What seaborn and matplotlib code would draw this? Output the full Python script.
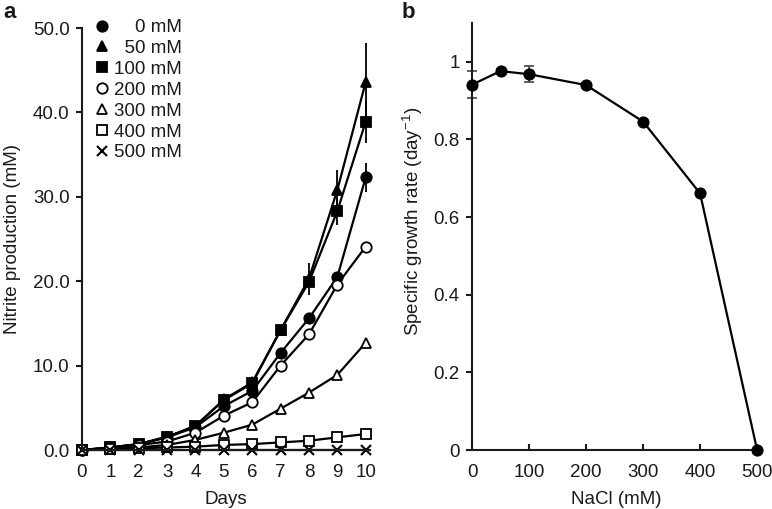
import numpy as np
import pandas as pd
import matplotlib
matplotlib.use("Agg")
import matplotlib.pyplot as plt
import seaborn as sns

# ---------------- data ----------------
days = [0, 1, 2, 3, 4, 5, 6, 7, 8, 9, 10]
labels = ["0 mM", "50 mM", "100 mM", "200 mM", "300 mM", "400 mM", "500 mM"]
legend_labels = ["    0 mM", "  50 mM", "100 mM", "200 mM", "300 mM", "400 mM", "500 mM"]
nitrite_0 = [0.0, 0.3, 0.7, 1.5, 2.7, 5.2, 7.0, 11.5, 15.6, 20.5, 32.3]
nitrite_50 = [0.0, 0.3, 0.7, 1.6, 2.8, 6.0, 8.0, 14.2, 20.3, 30.8, 43.6]
nitrite_100 = [0.0, 0.3, 0.7, 1.5, 2.9, 5.9, 7.9, 14.2, 19.9, 28.3, 38.9]
nitrite_200 = [0.0, 0.2, 0.6, 1.0, 2.05, 4.07, 5.65, 10.0, 13.7, 19.6, 24.1]
nitrite_300 = [0.0, 0.1, 0.3, 0.6, 1.2, 2.05, 3.0, 4.9, 6.8, 8.9, 12.7]
nitrite_400 = [0.0, 0.1, 0.2, 0.3, 0.4, 0.6, 0.7, 0.9, 1.1, 1.5, 1.9]
nitrite_500 = [0.0, 0.0, 0.0, 0.0, 0.0, 0.0, 0.0, 0.0, 0.0, 0.0, 0.0]
# error bars (day, value, sd) for panel a
err_days = [8, 9, 10, 9, 10, 10]
err_vals = [20.3, 30.8, 43.6, 28.3, 38.9, 32.3]
err_sd = [1.9, 2.4, 4.6, 1.6, 2.5, 1.7]

nacl = [0, 50, 100, 200, 300, 400, 500]
growth_rate = [0.941, 0.976, 0.968, 0.940, 0.846, 0.661, 0.0]
growth_sd = [0.035, 0.005, 0.021, 0.005, 0.005, 0.005, 0.0]

series = [nitrite_0, nitrite_50, nitrite_100, nitrite_200, nitrite_300, nitrite_400, nitrite_500]
markers = ["o", "^", "s", "o", "^", "s", "x"]
faces = ["black", "black", "black", "white", "white", "white", "black"]
msizes = [7.5, 7.5, 7.0, 7.5, 7.5, 7.0, 6.5]

sns.set_theme(style="ticks")
plt.rcParams["font.family"] = ["Liberation Sans", "DejaVu Sans"]
plt.rcParams["axes.linewidth"] = 1.5
for k in ["text.color", "axes.labelcolor", "xtick.color", "ytick.color", "axes.edgecolor"]:
    plt.rcParams[k] = "#1a1a1a"

FS = 13.5

fig = plt.figure(figsize=(7.72, 5.09), dpi=100)
ax1 = fig.add_axes([0.1062, 0.1159, 0.373, 0.829])
ax2 = fig.add_axes([0.6114, 0.1159, 0.373, 0.839])

# ---------------- panel a ----------------
for lab, leg, vals, m, fc, ms in zip(labels, legend_labels, series, markers, faces, msizes):
    df = pd.DataFrame({"Days": days, "val": vals})
    sns.lineplot(data=df, x="Days", y="val", ax=ax1, color="black", linewidth=1.6,
                 marker=m, markersize=ms, markerfacecolor=fc, markeredgecolor="black",
                 markeredgewidth=1.3 if m != "x" else 1.5, label=leg, clip_on=False)
ax1.errorbar(err_days, err_vals, yerr=err_sd, fmt="none", ecolor="black", elinewidth=1.3,
             capsize=0, zorder=1)
ax1.set_xlim(0, 10.15)
ax1.set_ylim(0, 50)
ax1.set_xticks(days)
ax1.set_yticks([0, 10, 20, 30, 40, 50])
ax1.set_yticklabels(["0.0", "10.0", "20.0", "30.0", "40.0", "50.0"])
ax1.tick_params(axis="x", length=0, pad=10, labelsize=FS)
ax1.tick_params(axis="y", length=4, width=1.5, direction="out", pad=5, labelsize=FS)
ax1.set_xlabel("Days", fontsize=FS, labelpad=7)
ax1.set_ylabel("Nitrite production (mM)", fontsize=FS)
ax1.yaxis.set_label_coords(-0.213, 0.5)
sns.despine(ax=ax1)
leg = ax1.legend(loc="upper left", bbox_to_anchor=(0.03, 1.048), frameon=False,
                 fontsize=FS, handlelength=0, handletextpad=0.65, labelspacing=0.2,
                 borderaxespad=0.2)
for h in leg.legend_handles:
    h.set_linestyle("none")

# ---------------- panel b ----------------
dfb = pd.DataFrame({"NaCl": nacl, "rate": growth_rate})
sns.lineplot(data=dfb, x="NaCl", y="rate", ax=ax2, color="black", linewidth=1.6,
             marker="o", markersize=8, markerfacecolor="black", markeredgecolor="black",
             clip_on=False, zorder=3)
ax2.errorbar(nacl, growth_rate, yerr=growth_sd, fmt="none", ecolor="#444444",
             elinewidth=1.2, capsize=3.5, capthick=1.2, zorder=2, clip_on=False)
ax2.set_xlim(0, 505)
ax2.set_ylim(0, 1.1)
ax2.set_xticks([0, 100, 200, 300, 400, 500])
ax2.set_yticks([0, 0.2, 0.4, 0.6, 0.8, 1.0])
ax2.set_yticklabels(["0", "0.2", "0.4", "0.6", "0.8", "1"])
ax2.tick_params(axis="x", length=4, width=1.5, direction="in", pad=10, labelsize=FS)
ax2.tick_params(axis="y", length=4, width=1.5, direction="out", pad=5, labelsize=FS)
ax2.set_xlabel("NaCl (mM)", fontsize=FS, labelpad=7)
ax2.set_ylabel("Specific growth rate (day$^{\\mathregular{-1}}$)", fontsize=FS)
ax2.yaxis.set_label_coords(-0.163, 0.535)
sns.despine(ax=ax2)

fig.text(0.004, 0.975, "a", fontsize=16, fontweight="bold", va="center")
fig.text(0.52, 0.975, "b", fontsize=16, fontweight="bold", va="center")

fig.savefig("out.png", dpi=100)
